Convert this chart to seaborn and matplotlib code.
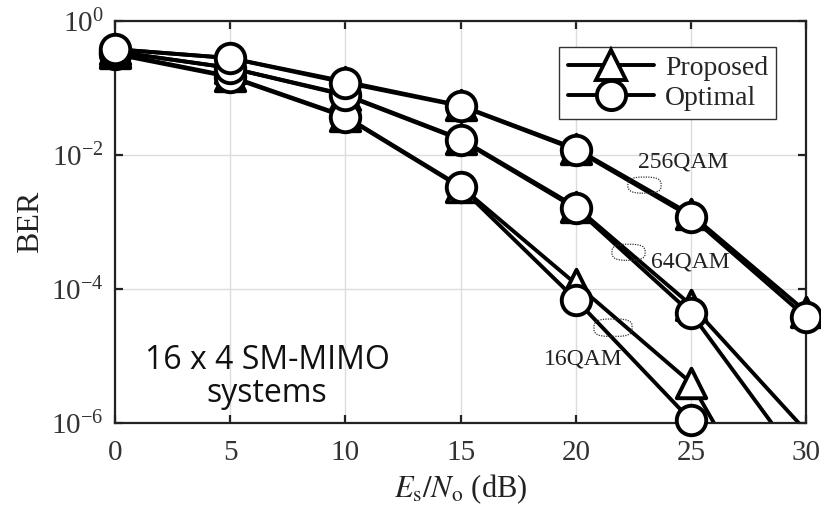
import numpy as np
import pandas as pd
import matplotlib
matplotlib.use("Agg")
import matplotlib.pyplot as plt
import seaborn as sns
from matplotlib.lines import Line2D
from matplotlib.patches import FancyBboxPatch

# datos
snr_db = [0, 5, 10, 15, 20, 25, 30]

ber_16qam_prop = [0.33, 0.15, 0.038, 0.0034, 1.2e-4, 4.0e-6, 4e-9]
ber_16qam_opt = [0.32, 0.146, 0.037, 0.0033, 7.0e-5, 1.1e-6, 1e-9]
ber_64qam_prop = [0.35, 0.20, 0.080, 0.0175, 1.7e-3, 5.8e-5, 7.6e-7]
ber_64qam_opt = [0.35, 0.20, 0.078, 0.017, 1.6e-3, 4.4e-5, 2.0e-7]
ber_256qam_prop = [0.38, 0.28, 0.125, 0.055, 0.0125, 1.3e-3, 4.6e-5]
ber_256qam_opt = [0.38, 0.28, 0.12, 0.054, 0.012, 1.2e-3, 3.8e-5]

mod_labels = ["256QAM", "64QAM", "16QAM"]
legend_labels = ["Proposed", "Optimal"]

YMIN, YMAX = 1e-6, 1.0

sns.set_theme(style="ticks")
plt.rcParams["font.family"] = ["Liberation Serif", "DejaVu Serif"]
plt.rcParams["mathtext.fontset"] = "stix"

fig = plt.figure(figsize=(8.21, 5.13), dpi=100)
ax = fig.add_axes([0.140, 0.175, 0.842, 0.784])

series = [
    ("Proposed", "^", ber_16qam_prop),
    ("Proposed", "^", ber_64qam_prop),
    ("Proposed", "^", ber_256qam_prop),
    ("Optimal", "o", ber_16qam_opt),
    ("Optimal", "o", ber_64qam_opt),
    ("Optimal", "o", ber_256qam_opt),
]

for method, mk, vals in series:
    df = pd.DataFrame({"snr": snr_db, "ber": vals})
    sns.lineplot(data=df, x="snr", y="ber", ax=ax, color="black",
                 linewidth=2.8, estimator=None, zorder=2)
    # marcadores dentro del rango visible (sin recortar, como en MATLAB)
    vis = df[df["ber"] >= YMIN]
    sns.scatterplot(data=vis, x="snr", y="ber", ax=ax, marker=mk, s=450,
                    facecolor="white", edgecolor="black", linewidth=2.8,
                    clip_on=False, zorder=3)

ax.set_yscale("log")
ax.set_xlim(0, 30)
ax.set_ylim(YMIN, YMAX)
ax.set_xticks([0, 5, 10, 15, 20, 25, 30])
ax.set_yticks([1e-6, 1e-4, 1e-2, 1e0])
ax.yaxis.set_minor_locator(matplotlib.ticker.NullLocator())
ax.grid(True, color="#dcdcdc", linewidth=1.0, zorder=0)
ax.set_axisbelow(True)

for sp in ax.spines.values():
    sp.set_visible(True)
    sp.set_color("#222222")
    sp.set_linewidth(1.6)
ax.tick_params(direction="in", length=6, width=1.6, top=True, right=True,
               labelsize=21, colors="#222222")
ax.tick_params(axis="x", labelcolor="#333333", pad=12)
ax.tick_params(axis="y", labelcolor="#333333", pad=8)

ax.set_xlabel(r"$E_\mathrm{s}/N_\mathrm{o}$ (dB)", fontsize=22, labelpad=5,
              color="#222222")
ax.set_ylabel("BER", fontsize=23, labelpad=4, color="#222222")

# etiquetas de modulacion
ax.text(0.822, 0.649, mod_labels[0], transform=ax.transAxes, fontsize=17,
        ha="center", va="center", color="#222222")
ax.text(0.832, 0.400, mod_labels[1], transform=ax.transAxes, fontsize=17,
        ha="center", va="center", color="#222222")
ax.text(0.677, 0.160, mod_labels[2], transform=ax.transAxes, fontsize=17,
        ha="center", va="center", color="#222222")

# elipses punteadas
boxes = [(0.742, 0.572, 0.048, 0.040),
         (0.719, 0.405, 0.048, 0.040),
         (0.693, 0.216, 0.055, 0.043)]
for bx, by, bw, bh in boxes:
    ax.add_patch(FancyBboxPatch((bx, by), bw, bh, transform=ax.transAxes,
                                boxstyle="round,pad=0,rounding_size=0.02",
                                mutation_aspect=0.8,
                                fill=False, edgecolor="#333333",
                                linestyle=(0, (1, 1)), linewidth=0.9,
                                zorder=4))

ax.text(0.22, 0.115, "16 x 4 SM-MIMO\nsystems", transform=ax.transAxes,
        fontsize=23, ha="center", va="center", linespacing=1.0,
        family=["Open Sans", "DejaVu Sans"], color="#111111")

handles = [
    Line2D([], [], color="black", linewidth=2.8, marker="^", markersize=21,
           markerfacecolor="white", markeredgecolor="black", markeredgewidth=2.8),
    Line2D([], [], color="black", linewidth=2.8, marker="o", markersize=21,
           markerfacecolor="white", markeredgecolor="black", markeredgewidth=2.8),
]
leg = ax.legend(handles, legend_labels, loc="upper right",
                bbox_to_anchor=(0.957, 0.935), fontsize=20, frameon=True,
                fancybox=False, edgecolor="#333333", framealpha=1,
                handlelength=3.1, handletextpad=0.4, borderpad=0.3,
                labelspacing=0.15, borderaxespad=0)
leg.get_frame().set_linewidth(1.0)

fig.savefig("out.png", dpi=100)
plt.close(fig)
